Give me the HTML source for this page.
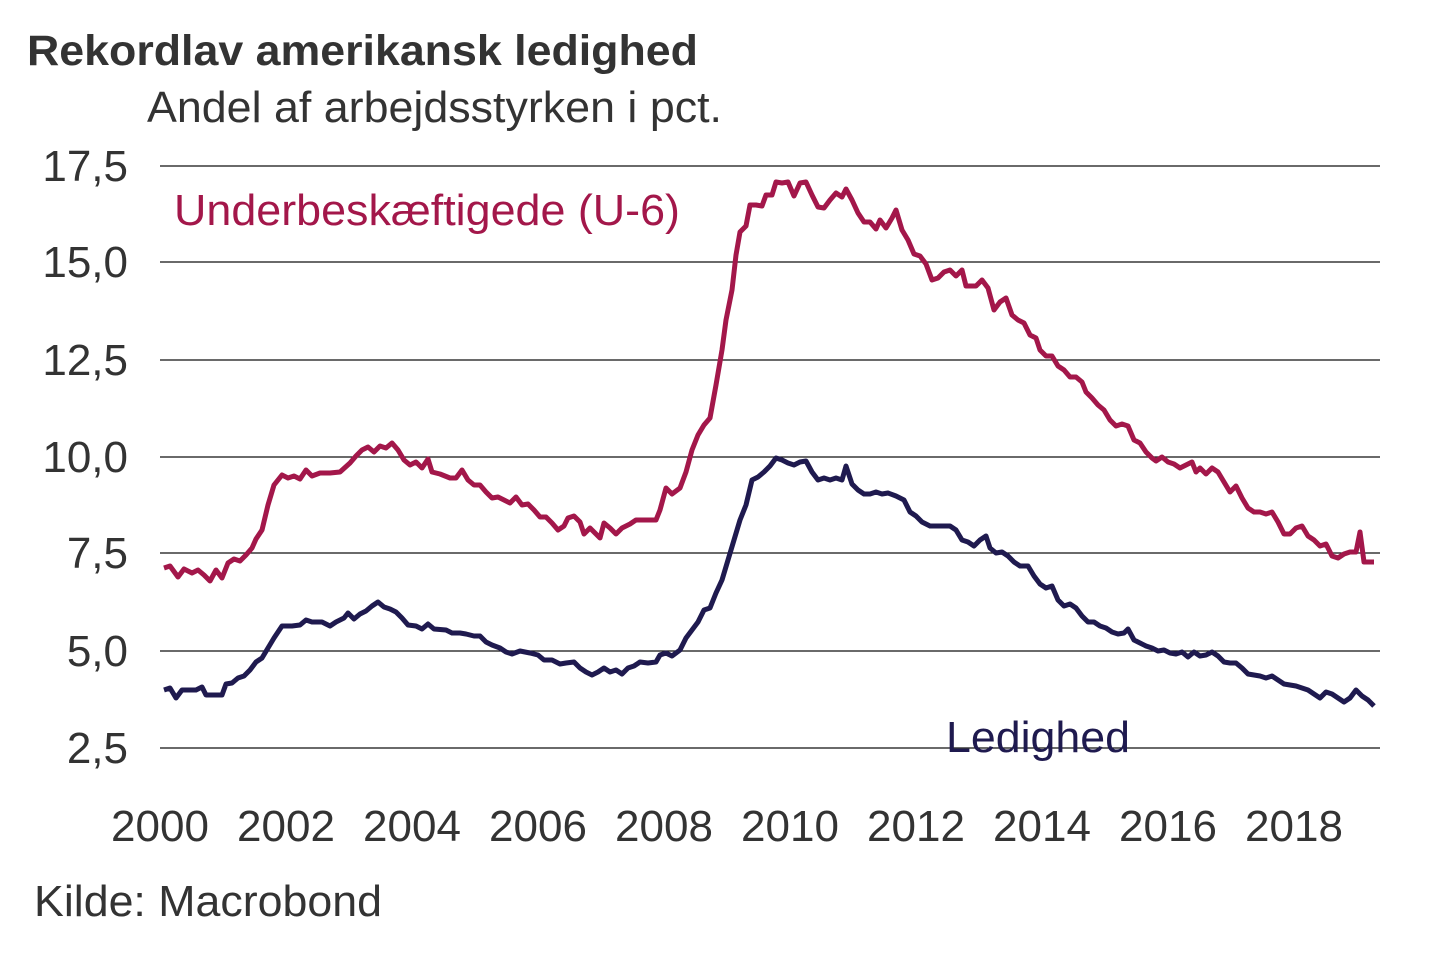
<!DOCTYPE html>
<html><head><meta charset="utf-8"><style>
body{margin:0;background:#fff;width:1440px;height:960px;overflow:hidden}
svg text{font-family:"Liberation Sans",Arial,sans-serif}
</style></head><body>
<svg width="1440" height="960" viewBox="0 0 1440 960">
<text x="27" y="65" font-size="43" font-weight="bold" fill="#333" textLength="671" lengthAdjust="spacingAndGlyphs">Rekordlav amerikansk ledighed</text>
<text x="147" y="122" font-size="44" fill="#333" textLength="575" lengthAdjust="spacingAndGlyphs">Andel af arbejdsstyrken i pct.</text>
<g stroke="#111" stroke-width="1.3">
<line x1="160" x2="1380" y1="166" y2="166"/><line x1="160" x2="1380" y1="262" y2="262"/>
<line x1="160" x2="1380" y1="360" y2="360"/><line x1="160" x2="1380" y1="457" y2="457"/>
<line x1="160" x2="1380" y1="553" y2="553"/><line x1="160" x2="1380" y1="651" y2="651"/>
<line x1="160" x2="1380" y1="748" y2="748"/></g>
<g font-size="44" fill="#333" text-anchor="end">
<text x="128" y="181">17,5</text><text x="128" y="277">15,0</text><text x="128" y="375">12,5</text>
<text x="128" y="472">10,0</text><text x="128" y="568">7,5</text><text x="128" y="666">5,0</text><text x="128" y="763">2,5</text></g>
<g font-size="44" fill="#333" text-anchor="middle">
<text x="160" y="841">2000</text><text x="286" y="841">2002</text><text x="412" y="841">2004</text>
<text x="538" y="841">2006</text><text x="664" y="841">2008</text><text x="790" y="841">2010</text>
<text x="916" y="841">2012</text><text x="1042" y="841">2014</text><text x="1168" y="841">2016</text><text x="1294" y="841">2018</text></g>
<text x="34" y="916" font-size="44" fill="#333" textLength="348" lengthAdjust="spacingAndGlyphs">Kilde: Macrobond</text>
<polyline fill="none" stroke="#a3174a" stroke-width="5" stroke-linejoin="round" points="164,568 170,566 178,577 184,569 192,573 198,570 204,575 210,581 216,570 222,578 228,563 234,559 240,561 246,555 252,548 256,539 262,530 268,505 274,485 282,475 288,478 294,476 300,479 306,470 312,476 320,473 330,473 340,472 350,463 356,456 362,450 368,447 374,452 380,446 386,448 392,443 398,450 404,460 410,465 416,462 422,468 428,459 432,472 440,474 450,478 456,478 462,470 468,480 474,485 480,485 486,492 492,498 498,497 504,500 510,503 516,497 522,505 528,504 534,510 540,517 546,517 552,523 558,530 564,526 568,518 574,516 580,522 584,534 590,528 596,534 600,538 604,523 610,528 616,534 622,528 630,524 636,520 646,520 656,520 660,510 666,488 672,494 680,488 686,472 692,450 698,435 704,425 710,418 716,385 722,350 726,320 732,290 736,255 740,232 746,226 750,205 756,205 762,206 766,195 772,195 776,182 782,183 788,182 794,196 800,183 806,182 812,195 818,207 824,208 830,200 836,193 842,197 846,189 852,200 858,213 864,222 870,222 876,229 880,220 886,228 892,218 896,210 902,230 908,240 914,254 920,256 926,264 932,280 938,278 944,272 950,270 956,276 962,270 966,286 976,286 982,280 988,288 994,310 1000,302 1006,298 1012,315 1018,320 1024,323 1030,335 1036,338 1040,350 1046,356 1052,356 1058,366 1064,370 1070,377 1076,377 1082,382 1086,392 1092,398 1098,405 1104,410 1110,420 1116,426 1122,424 1128,426 1134,440 1140,443 1146,452 1152,458 1156,461 1162,457 1168,462 1174,464 1180,468 1186,465 1192,462 1196,472 1200,468 1206,474 1212,468 1218,472 1224,482 1230,492 1236,486 1242,498 1248,508 1254,512 1260,512 1266,514 1272,512 1278,522 1284,534 1290,534 1296,528 1302,526 1308,536 1314,540 1320,546 1326,544 1332,556 1338,558 1344,554 1350,552 1356,552 1360,532 1364,562 1374,562"/>
<polyline fill="none" stroke="#1f1a4f" stroke-width="5" stroke-linejoin="round" points="164,690 170,688 176,698 182,690 188,690 196,690 202,687 206,695 216,695 222,695 226,684 232,683 238,678 244,676 250,670 256,662 262,658 268,648 274,638 282,626 292,626 300,625 306,620 312,622 322,622 330,626 336,622 344,618 348,613 354,619 360,614 366,611 372,606 378,602 384,607 390,609 396,612 402,618 408,625 416,626 422,629 428,624 434,629 446,630 452,633 460,633 466,634 474,636 480,636 486,642 492,645 500,648 506,652 512,654 520,651 530,653 538,655 544,660 552,660 560,664 566,663 574,662 580,668 586,672 592,675 598,672 604,668 610,672 616,670 622,674 628,668 634,666 640,662 648,663 656,662 660,655 666,653 672,656 680,650 686,638 692,630 698,622 704,610 710,608 716,593 722,580 728,560 734,540 740,520 746,505 752,480 758,477 764,472 770,466 776,458 782,460 788,463 794,465 800,462 806,461 812,472 818,480 824,478 830,480 836,478 842,480 846,466 852,484 858,490 864,494 870,494 876,492 882,494 888,493 896,496 904,500 910,512 916,516 922,522 930,526 940,526 950,526 956,530 962,540 968,542 974,546 980,540 986,536 990,548 996,553 1002,552 1008,556 1014,562 1020,566 1028,566 1034,576 1040,584 1046,588 1052,586 1058,600 1064,606 1070,604 1076,608 1082,616 1088,622 1094,622 1100,626 1106,628 1112,632 1118,634 1124,633 1128,629 1134,640 1140,643 1146,646 1152,648 1158,651 1164,650 1170,653 1176,654 1182,652 1188,657 1194,652 1200,656 1206,655 1212,652 1218,656 1224,662 1230,663 1236,663 1242,668 1248,674 1254,675 1260,676 1266,678 1272,676 1278,680 1284,684 1290,685 1296,686 1302,688 1308,690 1314,694 1320,698 1326,692 1332,694 1338,698 1344,702 1350,698 1356,690 1362,696 1368,700 1374,706"/>
<text x="174" y="225" font-size="44" fill="#a3174a" textLength="506" lengthAdjust="spacingAndGlyphs">Underbeskæftigede (U-6)</text>
<text x="946" y="752" font-size="44" fill="#1f1a4f" textLength="184" lengthAdjust="spacingAndGlyphs">Ledighed</text>
</svg>
</body></html>
